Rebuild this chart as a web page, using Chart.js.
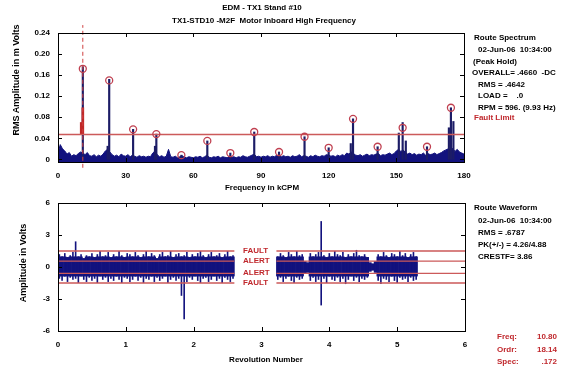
<!DOCTYPE html>
<html>
<head>
<meta charset="utf-8">
<script src="https://cdn.jsdelivr.net/npm/chart.js@4"></script>
<style>
body{margin:0;background:#fff;width:561px;height:368px;position:relative;overflow:hidden;font:bold 8px "Liberation Sans",Arial,sans-serif;color:#000}
canvas{position:absolute;left:0}
.t{position:absolute;white-space:pre;line-height:10px}
.c{transform:translateX(-50%)}
.r{transform:translate(-50%,-50%) rotate(-90deg);font-size:9px}
.red{color:#c0282d}
.val{text-align:right;width:40px}
</style>
</head>
<body>
<canvas id="spec" width="561" height="190" style="top:0"></canvas>
<canvas id="wave" width="561" height="178" style="top:190px"></canvas>

<div class="t c" style="left:262px;top:3px">EDM - TX1 Stand #10</div>
<div class="t c" style="left:264px;top:16px">TX1-STD10 -M2F  Motor Inboard High Frequency</div>
<div class="t r" style="left:16px;top:80px">RMS Amplitude in m Volts</div>
<div class="t c" style="left:262px;top:183px">Frequency in kCPM</div>
<div class="t r" style="left:23px;top:263px">Amplitude in Volts</div>
<div class="t c" style="left:266px;top:355px">Revolution Number</div>

<div class="t" style="left:474px;top:33px">Route Spectrum</div>
<div class="t" style="left:478px;top:45px">02-Jun-06  10:34:00</div>
<div class="t" style="left:473px;top:57px">(Peak Hold)</div>
<div class="t" style="left:472px;top:68px">OVERALL= .4660  -DC</div>
<div class="t" style="left:478px;top:80px">RMS = .4642</div>
<div class="t" style="left:478px;top:91px">LOAD =    .0</div>
<div class="t" style="left:478px;top:103px">RPM = 596. (9.93 Hz)</div>
<div class="t red" style="left:474px;top:113px">Fault Limit</div>

<div class="t" style="left:474px;top:203px">Route Waveform</div>
<div class="t" style="left:478px;top:216px">02-Jun-06  10:34:00</div>
<div class="t" style="left:478px;top:228px">RMS = .6787</div>
<div class="t" style="left:478px;top:240px">PK(+/-) = 4.26/4.88</div>
<div class="t" style="left:478px;top:252px">CRESTF= 3.86</div>

<div class="t red" style="left:497px;top:332px">Freq:</div>
<div class="t red val" style="left:517px;top:332px">10.80</div>
<div class="t red" style="left:497px;top:345px">Ordr:</div>
<div class="t red val" style="left:517px;top:345px">18.14</div>
<div class="t red" style="left:497px;top:357px">Spec:</div>
<div class="t red val" style="left:517px;top:357px">.172</div>

<div id="alarmText"></div>

<script>
// ---- spectrum data (kCPM, m Volts) ----
const specXTicks = [0, 30, 60, 90, 120, 150, 180];
const specXLabels = ['0', '30', '60', '90', '120', '150', '180'];
const specYTicks = [0, 0.04, 0.08, 0.12, 0.16, 0.20, 0.24];
const specYLabels = ['0', '0.04', '0.08', '0.12', '0.16', '0.20', '0.24'];

// noise floor, one value per kCPM from 0 to 180
const floorAmp = [
  0.012, 0.028, 0.020, 0.016, 0.010, 0.013, 0.006, 0.009, 0.007, 0.011,
  0.014, 0.012, 0.009, 0.013, 0.007, 0.006, 0.009, 0.005, 0.008, 0.006,
  0.010, 0.016, 0.019, 0.014, 0.009, 0.006, 0.008, 0.005, 0.010, 0.007,
  0.006, 0.009, 0.005, 0.008, 0.006, 0.004, 0.007, 0.005, 0.006, 0.004,
  0.006, 0.005, 0.012, 0.016, 0.009, 0.005, 0.007, 0.004, 0.006, 0.019,
  0.005, 0.004, 0.006, 0.003, 0.005, 0.007, 0.004, 0.003, 0.005, 0.004,
  0.003, 0.005, 0.004, 0.006, 0.003, 0.005, 0.008, 0.004, 0.003, 0.005,
  0.004, 0.006, 0.003, 0.005, 0.004, 0.003, 0.006, 0.004, 0.005, 0.003,
  0.005, 0.004, 0.007, 0.005, 0.004, 0.006, 0.008, 0.010, 0.005, 0.006,
  0.004, 0.006, 0.005, 0.007, 0.004, 0.006, 0.005, 0.008, 0.006, 0.005,
  0.007, 0.005, 0.006, 0.004, 0.007, 0.005, 0.006, 0.009, 0.005, 0.007,
  0.006, 0.004, 0.007, 0.005, 0.008, 0.006, 0.005, 0.007, 0.006, 0.009,
  0.008, 0.006, 0.007, 0.005, 0.008, 0.006, 0.009, 0.007, 0.012, 0.010,
  0.014, 0.011, 0.008, 0.007, 0.009, 0.006, 0.008, 0.010, 0.007, 0.009,
  0.008, 0.010, 0.011, 0.007, 0.009, 0.008, 0.010, 0.012, 0.009, 0.011,
  0.016, 0.019, 0.015, 0.018, 0.013, 0.010, 0.012, 0.009, 0.011, 0.008,
  0.010, 0.009, 0.012, 0.008, 0.011, 0.009, 0.010, 0.012, 0.009, 0.011,
  0.013, 0.016, 0.018, 0.020, 0.017, 0.021, 0.015, 0.019, 0.014, 0.012,
  0.010
];

const peakFreq = [11.0, 22.0, 22.7, 33.3, 43.0, 43.6, 54.7, 66.2, 76.4, 87.0, 98.0, 109.3,
  120.0, 129.8, 130.8, 141.7, 151.1, 152.8, 154.2, 163.6, 173.3, 174.2, 175.3];
const peakAmp = [0.176, 0.025, 0.152, 0.057, 0.025, 0.048, 0.008, 0.035, 0.012, 0.052, 0.014, 0.043,
  0.022, 0.030, 0.077, 0.024, 0.050, 0.070, 0.035, 0.024, 0.060, 0.098, 0.072];

const markFreq = [11.0, 22.7, 33.3, 43.6, 54.7, 66.2, 76.4, 87.0, 98.0, 109.3, 120.0, 130.8, 141.7, 152.8, 163.6, 174.2];
const markAmp = [0.172, 0.150, 0.057, 0.048, 0.008, 0.035, 0.012, 0.052, 0.014, 0.043, 0.022, 0.077, 0.024, 0.060, 0.024, 0.098];

const faultLimit = 0.047;
const cursorFreq = 11.0;
const cursorSpan = [-0.016, 0.255];
const hiliteFreq = [10.3, 11.0];
const hiliteLo = [0.047, 0.047];
const hiliteHi = [0.070, 0.098];

// ---- waveform data (revolutions, Volts) ----
const waveXTicks = [0, 1, 2, 3, 4, 5, 6];
const waveXLabels = ['0', '1', '2', '3', '4', '5', '6'];
const waveYTicks = [-6, -3, 0, 3, 6];
const waveYLabels = ['-6', '-3', '0', '3', '6'];

const segStart = [0.02, 3.24];
const segStep = 0.04;
const hiL = [
  1.2, 1.0, 1.3, 0.9, 1.1, 1.4, 2.4, 1.0, 1.2, 0.8,
  1.1, 1.0, 1.3, 0.9, 1.2, 1.5, 1.0, 1.1, 1.4, 0.9,
  1.2, 1.0, 1.5, 1.1, 0.9, 1.3, 1.2, 1.0, 1.4, 1.1,
  0.9, 1.2, 1.5, 1.0, 1.3, 1.1, 0.8, 1.2, 1.4, 1.0,
  1.1, 1.5, 0.9, 1.2, 1.3, 1.0, 1.1, 1.4, 0.9, 1.2,
  1.0, 1.3, 1.5, 1.1, 0.9, 1.2, 1.4, 1.0, 1.1, 1.3,
  0.9, 1.2, 1.5, 1.0, 1.1
];
const loL = [
  -1.1, -1.3, -0.9, -1.4, -1.0, -1.2, -1.1, -1.5, -0.9, -1.2,
  -1.4, -1.0, -1.3, -1.1, -1.5, -0.9, -1.2, -1.0, -1.4, -1.1,
  -1.3, -0.9, -1.2, -1.5, -1.0, -1.1, -1.4, -1.2, -0.9, -1.3,
  -1.0, -1.5, -1.1, -1.2, -0.9, -1.4, -1.0, -1.3, -1.1, -0.9,
  -1.5, -1.2, -1.0, -1.3, -1.1, -2.7, -4.9, -1.4, -1.0, -1.2,
  -0.9, -1.3, -1.5, -1.1, -1.0, -1.4, -1.2, -0.9, -1.3, -1.1,
  -1.5, -1.0, -1.2, -1.4, -1.1
];
const hiR = [
  1.0, 1.3, 1.1, 0.9, 1.4, 1.2, 1.0, 1.5, 1.1, 1.2,
  0.5, 0.4, 1.3, 1.0, 1.2, 1.4, 4.3, 1.1, 0.9, 1.3,
  1.0, 1.5, 1.2, 1.1, 1.4, 0.9, 1.2, 1.0, 1.3, 1.6,
  1.1, 1.0, 1.2, 0.9, 0.4, 0.3, 0.5, 1.2, 1.0, 1.4,
  1.1, 0.9, 1.3, 1.2, 1.0, 1.5, 1.1, 1.3, 0.9, 1.2,
  1.4, 1.0
];
const loR = [
  -1.2, -1.0, -1.4, -1.1, -0.9, -1.3, -1.5, -1.0, -1.2, -1.1,
  -0.6, -0.5, -1.3, -1.0, -1.4, -1.2, -3.6, -1.1, -1.5, -0.9,
  -1.2, -1.3, -1.0, -1.4, -1.1, -1.6, -1.2, -0.9, -1.3, -1.0,
  -1.4, -1.1, -1.2, -1.0, -0.4, -0.3, -0.5, -1.3, -1.6, -1.1,
  -1.2, -1.4, -0.9, -1.3, -1.5, -1.0, -1.2, -1.1, -1.4, -1.0,
  -1.3, -1.2
];
const coreTop = 0.95, coreBottom = -0.85;

const alarmLevels = [1.5, 0.55, -0.6, -1.5];
const alarmNames = ['FAULT', 'ALERT', 'ALERT', 'FAULT'];
const alarmSpans = [[0, 2.6], [3.22, 6]];

const NAVY = '#12127e';
const LIMIT = '#cc5a5a';
const MARK = '#c04050';
const font = {family: 'Liberation Sans', size: 8, weight: 'bold'};

Chart.defaults.color = '#000';
Chart.defaults.font = font;

// box + inward tick marks, positions come from the scales
const framePlugin = {
  id: 'frame',
  afterDatasetsDraw(chart) {
    const {ctx, chartArea: a, scales: {x, y}} = chart;
    ctx.save();
    ctx.strokeStyle = '#000';
    ctx.lineWidth = 1;
    ctx.strokeRect(a.left + 0.5, a.top + 0.5, a.right - a.left, a.bottom - a.top);
    ctx.beginPath();
    y.ticks.forEach(t => {
      const p = Math.round(y.getPixelForValue(t.value)) + 0.5;
      ctx.moveTo(a.left, p); ctx.lineTo(a.left + 4, p);
      ctx.moveTo(a.right, p); ctx.lineTo(a.right - 4, p);
    });
    x.ticks.forEach(t => {
      const p = Math.round(x.getPixelForValue(t.value)) + 0.5;
      ctx.moveTo(p, a.top); ctx.lineTo(p, a.top + 4);
      ctx.moveTo(p, a.bottom); ctx.lineTo(p, a.bottom - 4);
    });
    ctx.stroke();
    ctx.restore();
  }
};

function axis(min, max, ticks, labels, fit) {
  return {
    type: 'linear', min: min, max: max, offset: false,
    grid: {display: false, drawTicks: false},
    border: {display: false},
    afterBuildTicks: s => { s.ticks = ticks.map(v => ({value: v})); },
    afterFit: fit,
    ticks: {padding: fit.pad, autoSkip: false, maxRotation: 0, font: font, callback: (v, i) => labels[i]}
  };
}
function fitW(w) { const f = s => { s.width = w; }; f.pad = 8; return f; }
function fitH(h) { const f = s => { s.height = h; }; f.pad = 9; return f; }

// ---------- spectrum ----------
new Chart(document.getElementById('spec'), {
  type: 'bar',
  data: {
    datasets: [
      {
        type: 'line', order: 0, data: [{x: cursorFreq, y: cursorSpan[0]}, {x: cursorFreq, y: cursorSpan[1]}],
        borderColor: '#d04040', borderWidth: 1, borderDash: [4, 3], pointRadius: 0, clip: false
      },
      {
        type: 'line', order: 1, data: markFreq.map((f, i) => ({x: f, y: markAmp[i]})),
        showLine: false, pointStyle: 'circle', pointRadius: 3.5, pointBorderWidth: 1.3,
        pointBorderColor: MARK, pointBackgroundColor: 'rgba(255,255,255,0)'
      },
      {
        type: 'line', order: 2, data: [{x: 0, y: faultLimit}, {x: 180, y: faultLimit}],
        borderColor: LIMIT, borderWidth: 1.5, pointRadius: 0
      },
      {
        type: 'bar', order: 3, grouped: false, barThickness: 2,
        data: hiliteFreq.map((f, i) => ({x: f, y: [hiliteLo[i], hiliteHi[i]]})),
        backgroundColor: '#c02828'
      },
      {
        type: 'bar', order: 4, grouped: false, barThickness: 1.5,
        data: peakFreq.map((f, i) => ({x: f, y: peakAmp[i]})),
        backgroundColor: '#1c1c66'
      },
      {
        type: 'line', order: 5, data: floorAmp.map((v, k) => ({x: k, y: v})),
        borderColor: NAVY, backgroundColor: NAVY, borderWidth: 1, pointRadius: 0, fill: 'start', tension: 0
      }
    ]
  },
  options: {
    responsive: false, animation: false, devicePixelRatio: 1,
    layout: {padding: {left: 0, top: 33, right: 97, bottom: 0}},
    plugins: {legend: {display: false}, tooltip: {enabled: false}},
    scales: {
      x: axis(0, 180, specXTicks, specXLabels, fitH(28)),
      y: axis(-0.005, 0.24, specYTicks, specYLabels, fitW(58))
    }
  },
  plugins: [framePlugin]
});

// ---------- waveform ----------
function segBars(start, hi, lo, clampIt) {
  return hi.map((h, i) => ({
    x: start + segStep * i,
    y: clampIt ? [Math.max(lo[i], coreBottom), Math.min(h, coreTop)] : [lo[i], h]
  }));
}
const whiskers = segBars(segStart[0], hiL, loL, false).concat(segBars(segStart[1], hiR, loR, false));
const core = segBars(segStart[0], hiL, loL, true).concat(segBars(segStart[1], hiR, loR, true));

const alarmSets = alarmLevels.map(lv => {
  const pts = [];
  alarmSpans.forEach((sp, j) => {
    if (j > 0) pts.push({x: (alarmSpans[j - 1][1] + sp[0]) / 2, y: null});
    pts.push({x: sp[0], y: lv}, {x: sp[1], y: lv});
  });
  return {type: 'line', order: 0, data: pts, borderColor: LIMIT, borderWidth: 1.3, pointRadius: 0, spanGaps: false};
});

new Chart(document.getElementById('wave'), {
  type: 'bar',
  data: {
    datasets: alarmSets.concat([
      {type: 'bar', order: 1, grouped: false, data: whiskers, backgroundColor: NAVY,
        barPercentage: 0.6, categoryPercentage: 1},
      {type: 'bar', order: 2, grouped: false, data: core, backgroundColor: NAVY,
        barPercentage: 1, categoryPercentage: 1}
    ])
  },
  options: {
    responsive: false, animation: false, devicePixelRatio: 1,
    layout: {padding: {left: 0, top: 13, right: 96, bottom: 0}},
    plugins: {legend: {display: false}, tooltip: {enabled: false}},
    scales: {
      x: axis(0, 6, waveXTicks, waveXLabels, fitH(37)),
      y: axis(-6, 6, waveYTicks, waveYLabels, fitW(58))
    }
  },
  plugins: [framePlugin, {
    id: 'alarmLabels',
    afterRender(chart) {
      // red labels beside each alarm line, placed through the y scale
      const y = chart.scales.y;
      const box = document.getElementById('alarmText');
      box.innerHTML = '';
      alarmLevels.forEach((lv, i) => {
        const d = document.createElement('div');
        d.className = 't red';
        d.style.left = '243px';
        d.style.top = (190 + y.getPixelForValue(lv) - 5) + 'px';
        d.textContent = alarmNames[i];
        box.appendChild(d);
      });
    }
  }]
});
</script>
</body>
</html>
